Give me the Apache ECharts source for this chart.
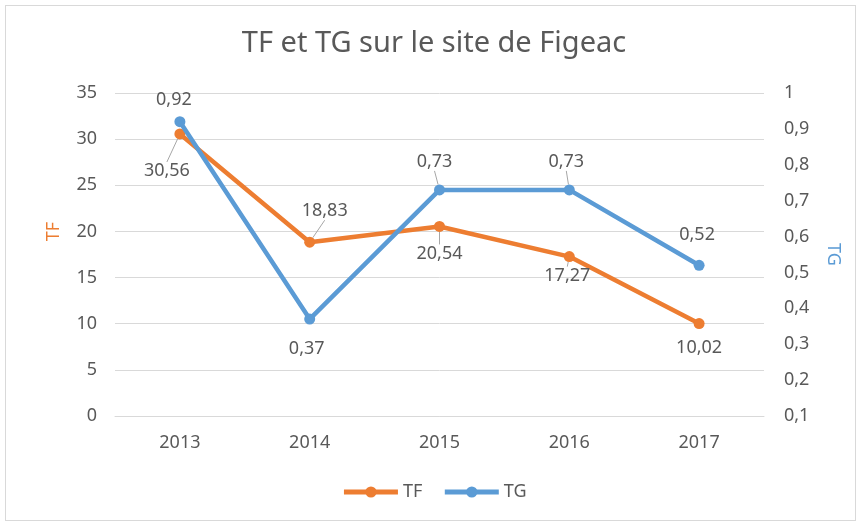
<!DOCTYPE html>
<html>
<head>
<meta charset="utf-8">
<script src="https://cdn.jsdelivr.net/npm/echarts@6/dist/echarts.min.js"></script>
<style>
  html, body { margin: 0; padding: 0; background: #fff; }
  .frame { position: absolute; left: 5px; top: 5px; width: 849px; height: 514px; border: 1px solid #d9d9d9; }
  #chart { position: absolute; left: 0; top: 0; width: 868px; height: 524px; }
</style>
</head>
<body>
<div class="frame"></div>
<div id="chart"></div>
<script>
// données
const years = ['2013', '2014', '2015', '2016', '2017']
const tfValues = [30.56, 18.83, 20.54, 17.27, 10.02]
const tgValues = [0.92, 0.37, 0.73, 0.73, 0.52]

// décalage des étiquettes (px, par rapport au point) et traits de rappel
const tfLabelShift = [[-13, 37], [15, -31], [0, 27], [-2, 19], [0, 24]]
const tgLabelShift = [[-6, -22], [-3, 30], [-5, -28], [-3, -28], [-2, -30]]
const tfLeader = [true, true, true, true, false]
const tgLeader = [false, false, true, true, false]

const textColor = '#595959'
const font = 'Noto Sans'
const comma = (v) => String(v).replace('.', ',')

const myChart = echarts.init(document.getElementById('chart'))

const labelBase = {
  show: true,
  position: 'inside',
  color: textColor,
  fontFamily: font,
  fontSize: 18,
  formatter: (p) => comma(p.value),
}

const buildData = (values, leaders) =>
  values.map((v, i) => ({ value: v, labelLine: { show: leaders[i] } }))

const option = {
  color: ['#ED7D31', '#5B9BD5'],
  animation: false,
  title: {
    text: 'TF et TG sur le site de Figeac',
    left: 'center',
    top: 24,
    textStyle: { color: textColor, fontFamily: font, fontSize: 29, fontWeight: 'normal' },
  },
  legend: {
    data: ['TF', 'TG'],
    top: 478,
    left: 'center',
    itemWidth: 54,
    itemHeight: 14,
    itemGap: 20,
    lineStyle: { width: 5 },
    textStyle: { color: textColor, fontFamily: font, fontSize: 18 },
  },
  grid: { left: 115, right: 104, top: 93, bottom: 108 },
  xAxis: {
    type: 'category',
    data: years,
    axisLine: { lineStyle: { color: '#d9d9d9', width: 1 } },
    axisTick: { show: false },
    axisLabel: { color: textColor, fontFamily: font, fontSize: 18, margin: 18 },
  },
  yAxis: [
    {
      type: 'value',
      name: 'TF',
      nameLocation: 'middle',
      nameGap: 52,
      nameTextStyle: { color: '#ED7D31', fontFamily: font, fontSize: 18, padding: [0, 0, 0, 46] },
      min: 0,
      max: 35,
      interval: 5,
      axisLine: { show: false },
      axisTick: { show: false },
      axisLabel: { color: textColor, fontFamily: font, fontSize: 18, margin: 18 },
      splitLine: { lineStyle: { color: '#d9d9d9', width: 1 } },
    },
    {
      type: 'value',
      name: 'TG',
      nameLocation: 'middle',
      nameGap: 60,
      nameRotate: -90,
      nameTextStyle: { color: '#5B9BD5', fontFamily: font, fontSize: 18 },
      min: 0.1,
      max: 1,
      interval: 0.1,
      axisLine: { show: false },
      axisTick: { show: false },
      axisLabel: {
        color: textColor, fontFamily: font, fontSize: 18, margin: 20,
        formatter: (v) => comma(Math.round(v * 10) / 10),
      },
      splitLine: { show: false },
    },
  ],
  series: [
    {
      name: 'TF',
      type: 'line',
      yAxisIndex: 0,
      data: buildData(tfValues, tfLeader),
      symbol: 'circle',
      symbolSize: 11,
      lineStyle: { width: 4.5 },
      label: labelBase,
      labelLine: { show: true, lineStyle: { color: '#a6a6a6', width: 1 } },
      labelLayout: (p) => ({ dx: tfLabelShift[p.dataIndex][0], dy: tfLabelShift[p.dataIndex][1] }),
      z: 2,
    },
    {
      name: 'TG',
      type: 'line',
      yAxisIndex: 1,
      data: buildData(tgValues, tgLeader),
      symbol: 'circle',
      symbolSize: 11,
      lineStyle: { width: 4.5 },
      label: labelBase,
      labelLine: { show: true, lineStyle: { color: '#a6a6a6', width: 1 } },
      labelLayout: (p) => ({ dx: tgLabelShift[p.dataIndex][0], dy: tgLabelShift[p.dataIndex][1] }),
      z: 3,
    },
  ],
}

myChart.setOption(option)
</script>
</body>
</html>
